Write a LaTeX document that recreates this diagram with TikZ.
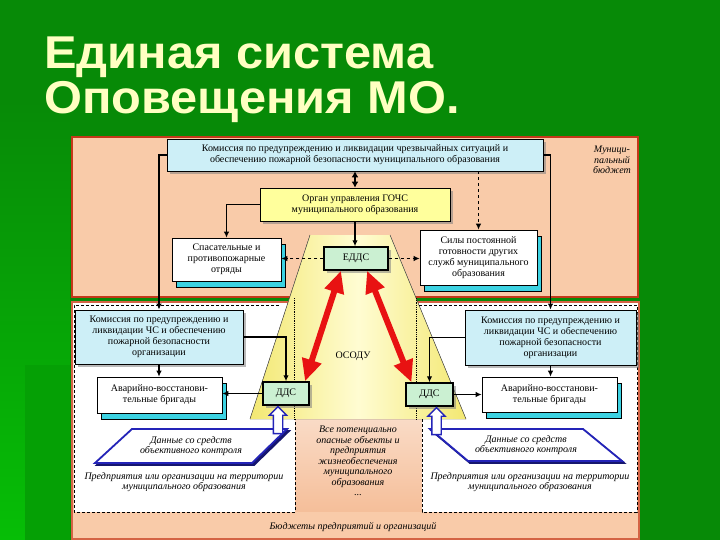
\documentclass[tikz,border=0pt]{standalone}
\usepackage{fontspec}
\setmainfont{Liberation Serif}
\newfontfamily\titlefont{Liberation Sans}
\usepackage{tikz}
\usetikzlibrary{arrows.meta,positioning,calc,shapes.arrows,shadows}
\definecolor{bggreen}{HTML}{078A07}
\definecolor{brightgreen}{HTML}{06BE06}
\definecolor{midgreen}{HTML}{05A005}
\definecolor{titleyellow}{HTML}{FFFFC2}
\definecolor{peach}{HTML}{F9CBA9}
\definecolor{peachdark}{HTML}{F4B68C}
\definecolor{framered}{HTML}{C4381A}
\definecolor{boxcyan}{HTML}{CDEFF7}
\definecolor{boxyellow}{HTML}{FFFF9C}
\definecolor{boxgreen}{HTML}{CBF0D2}
\definecolor{stackcyan}{HTML}{3CD2E2}
\definecolor{trapdark}{HTML}{F3E872}
\definecolor{traplight}{HTML}{FFFCD2}
\definecolor{datablue}{HTML}{2424B8}
\definecolor{arrowred}{HTML}{E81212}
\tikzstyle{box}=[draw=black,line width=0.7pt,align=center,inner sep=1pt,font=\fontsize{10}{11}\selectfont,drop shadow={shadow xshift=3pt,shadow yshift=-3pt,opacity=0.55}]
\tikzstyle{cyanbox}=[box,fill=boxcyan]
\tikzstyle{yellowbox}=[box,fill=boxyellow]
\tikzstyle{ddsbox}=[box,fill=boxgreen,line width=1.4pt]
\tikzstyle{stackbox}=[draw=black,fill=white,line width=0.6pt,align=center,inner sep=1pt,font=\fontsize{10}{11}\selectfont,general shadow={shadow xshift=4pt,shadow yshift=-6pt,fill=stackcyan,draw=black,line width=0.6pt}]
\tikzstyle{note}=[align=center,inner sep=0pt,font=\itshape\fontsize{10}{10.5}\selectfont]
\tikzstyle{link}=[line width=1.3pt,-{Latex[length=6pt,width=5.5pt]}]
\tikzstyle{redlink}=[arrowred,line width=6pt,{Triangle[length=22pt,width=19pt]}-{Triangle[length=22pt,width=19pt]}]
\tikzstyle{hollow}=[single arrow,draw=datablue,fill=white,line width=1.3pt,rotate=90,minimum height=27pt,inner sep=4pt,single arrow head extend=4pt]
\tikzstyle{titletext}=[anchor=base west,inner sep=0pt,text=titleyellow,font=\titlefont\bfseries\fontsize{46}{50}\selectfont,transform shape,xscale=1.06]
\begin{document}
\begin{tikzpicture}[x=1pt,y=-1pt]
\useasboundingbox (0,0) rectangle (720,540);
\fill[bggreen] (0,0) rectangle (720,540);
\shade[top color=bggreen,bottom color=brightgreen] (0,100) rectangle (70,540);
\fill[midgreen] (25,365) rectangle (70,540);
\node (title1) [titletext] at (44,69) {Единая система};
\node (title2) [titletext] at (44,114) {Оповещения МО.};
\draw[framered,line width=1.6pt,fill=peach] (72,137) rectangle (638,297);
\draw[framered!70!peach,line width=1.6pt,top color=white,bottom color=peachdark] (72,302) rectangle (639,539);
\fill[peach] (73,512) rectangle (638,538);
\fill[white] (74,305) rectangle (295,512);
\fill[white] (422,305) rectangle (637,512);
\fill[left color=trapdark,right color=trapdark,middle color=traplight] (310,235) -- (390,235) -- (466,419) -- (250,419) -- cycle;
\draw[black!70,line width=0.5pt] (310,235) -- (250,419);
\draw[black!70,line width=0.5pt] (390,235) -- (466,419);
\draw[densely dotted,line width=0.8pt] (294,298) -- (294,419);
\draw[densely dotted,line width=0.8pt] (416,298) -- (416,419);
\draw[line width=1pt,dash pattern=on 3pt off 2pt] (279,305) -- (74,305) -- (74,512) -- (295,512) -- (295,419);
\draw[line width=1pt,dash pattern=on 3pt off 2pt] (419,305) -- (637,305) -- (637,512) -- (422,512) -- (422,419);
\node (budget) [note] at (612,160) {Муници-\\пальный\\бюджет};
\node (orgbudget) [note] at (353,527) {Бюджеты предприятий и организаций};
\node (objects) [note] at (358,461) {Все потенциально\\опасные объекты и\\предприятия\\жизнеобеспечения\\муниципального\\образования\\...};
\node (firmsL) [note] at (184,482) {Предприятия или организации на территории\\муниципального образования};
\node (firmsR) [note] at (530,482) {Предприятия или организации на территории\\муниципального образования};
\node (osodu) [font=\fontsize{10}{11}\selectfont] at (353,356) {ОСОДУ};
\draw[datablue!60!black,line width=1.8pt,fill=datablue!60!black] (134,431) -- (289,431) -- (254,465) -- (97,465) -- cycle;
\draw[datablue,line width=1.8pt,fill=white] (132,429) -- (287,429) -- (252,463) -- (95,463) -- cycle;
\draw[datablue!60!black,line width=1.8pt,fill=datablue!60!black] (432,431) -- (585,431) -- (624,463) -- (470,463) -- cycle;
\draw[datablue,line width=1.8pt,fill=white] (430,429) -- (583,429) -- (622,461) -- (468,461) -- cycle;
\node (dataL) [note] at (191,446) {Данные со средств\\объективного контроля};
\node (dataR) [note] at (526,445) {Данные со средств\\объективного контроля};
\node (kchs) [cyanbox,minimum width=376pt,minimum height=32pt] at (355,155) {Комиссия по предупреждению и ликвидации чрезвычайных ситуаций и\\обеспечению пожарной безопасности муниципального образования};
\node (organ) [yellowbox,minimum width=190pt,minimum height=33pt] at (355,204.5) {Орган управления ГОЧС\\муниципального образования};
\node (rescue) [stackbox,minimum width=109pt,minimum height=43pt] at (226.5,259.5) {Спасательные и\\противопожарные\\отряды};
\node (forces) [stackbox,minimum width=117pt,minimum height=55pt] at (478.5,257.5) {Силы постоянной\\готовности других\\служб муниципального\\образования};
\node (edds) [ddsbox,minimum width=64pt,minimum height=23pt] at (356,258.5) {ЕДДС};
\node (komL) [cyanbox,minimum width=168pt,minimum height=54pt] at (159,337) {Комиссия по предупреждению и\\ликвидации ЧС и обеспечению\\пожарной безопасности\\организации};
\node (komR) [cyanbox,minimum width=171pt,minimum height=55pt] at (550.5,337.5) {Комиссия по предупреждению и\\ликвидации ЧС и обеспечению\\пожарной безопасности\\организации};
\node (avarL) [stackbox,minimum width=125pt,minimum height=36pt] at (159.5,395) {Аварийно-восстанови-\\тельные бригады};
\node (avarR) [stackbox,minimum width=135pt,minimum height=35pt] at (549.5,394.5) {Аварийно-восстанови-\\тельные бригады};
\node (ddsL) [ddsbox,minimum width=46pt,minimum height=23pt] at (286,393.5) {ДДС};
\node (ddsR) [ddsbox,minimum width=47pt,minimum height=23pt] at (429.5,394.5) {ДДС};
\draw[line width=1.6pt,{Latex[length=6pt,width=7pt]}-{Latex[length=6pt,width=7pt]}] (kchs) -- (organ);
\draw[link] (organ.south) -- (organ.south |- edds.north);
\draw[link] (organ.west) -| (rescue.north);
\draw[link,dashed] (edds.west) -- (rescue.east |- edds.west);
\draw[link,dashed] (edds.east) -- (forces.west |- edds.east);
\draw[link,dashed] (kchs.south -| forces.north) -- (forces.north);
\draw[link] (kchs.west) -| (komL.north);
\draw[link] (kchs.east) -| (komR.north);
\draw[link] (komL.south) -- (komL.south |- avarL.north);
\draw[link] (komR.south) -- (komR.south |- avarR.north);
\draw[link] (komL.east) -| (ddsL.north);
\draw[link] (komR.west) -| (ddsR.north);
\draw[link] (ddsL.west) -- (avarL.east |- ddsL.west);
\draw[link] (ddsR.east) -- (avarR.west |- ddsR.east);
\draw[redlink] ([xshift=-15pt]edds.south) -- ([xshift=19pt]ddsL.north);
\draw[redlink] ([xshift=11pt]edds.south) -- ([xshift=-18pt]ddsR.north);
\node (upL) [hollow,anchor=tip] at ([xshift=-8pt]ddsL.south) {};
\node (upR) [hollow,anchor=tip] at ([xshift=7pt]ddsR.south) {};
\end{tikzpicture}
\end{document}
